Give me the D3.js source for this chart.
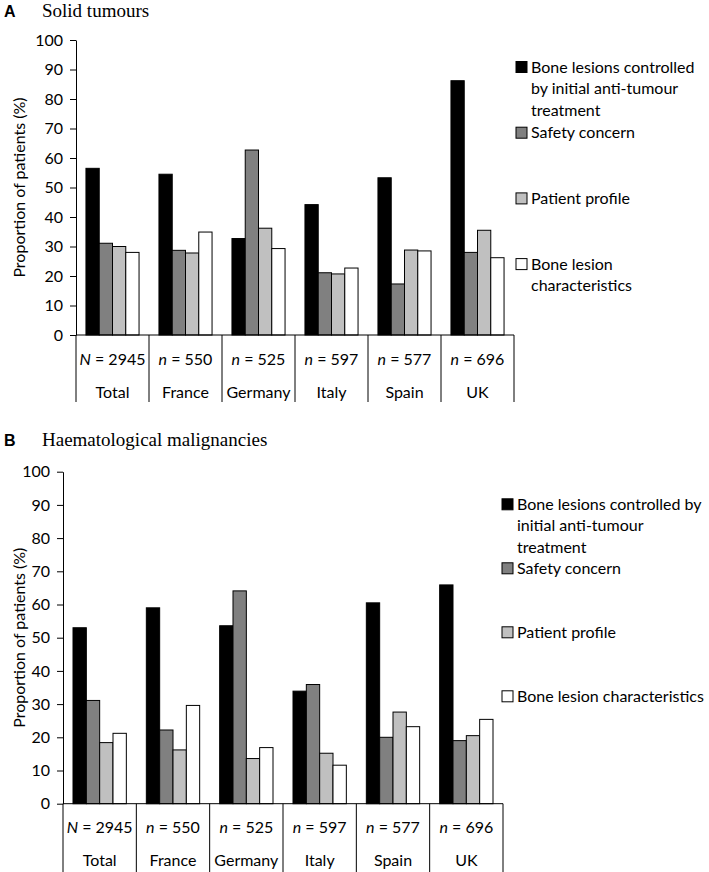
<!DOCTYPE html>
<html>
<head>
<meta charset="utf-8">
<script src="https://cdn.jsdelivr.net/npm/d3@7"></script>
<style>
  body { margin: 0; background: #fff; }
  svg { display: block; }
  .sans { font-family: Lato, "Open Sans", sans-serif; }
</style>
</head>
<body>
<svg id="chart" width="709" height="872"></svg>
<script>
const countries = ['Total', 'France', 'Germany', 'Italy', 'Spain', 'UK'];
const nLetters = ['N', 'n', 'n', 'n', 'n', 'n'];
const nCounts = ['2945', '550', '525', '597', '577', '696'];
const yTicks = [0, 10, 20, 30, 40, 50, 60, 70, 80, 90, 100];
const seriesKeys = ['controlled', 'safety', 'profile', 'characteristics'];
const seriesColors = ['#000000', '#808080', '#c0c0c0', '#ffffff'];

// panel A - solid tumours
const solidControlled = [56.5, 54.5, 32.7, 44.2, 53.3, 86.2];
const solidSafety = [31.1, 28.7, 62.7, 21.1, 17.3, 28.0];
const solidProfile = [30.0, 27.8, 36.2, 20.7, 28.8, 35.5];
const solidCharacteristics = [28.0, 34.9, 29.3, 22.7, 28.5, 26.2];
const solidLegend = [
  ['Bone lesions controlled', 'by initial anti-tumour', 'treatment'],
  ['Safety concern'],
  ['Patient profile'],
  ['Bone lesion', 'characteristics']
];

// panel B - haematological malignancies
const haemControlled = [53.0, 59.0, 53.6, 33.9, 60.5, 65.9];
const haemSafety = [31.1, 22.2, 64.1, 35.9, 20.0, 19.0];
const haemProfile = [18.4, 16.2, 13.6, 15.2, 27.6, 20.5];
const haemCharacteristics = [21.2, 29.6, 16.9, 11.6, 23.2, 25.4];
const haemLegend = [
  ['Bone lesions controlled by', 'initial anti-tumour', 'treatment'],
  ['Safety concern'],
  ['Patient profile'],
  ['Bone lesion characteristics']
];

const svg = d3.select('#chart');

function drawPanel(opt) {
  const g = svg.append('g');
  const series = [opt.controlled, opt.safety, opt.profile, opt.characteristics];

  // panel letter + title
  g.append('text')
    .attr('x', 4).attr('y', opt.titleY)
    .attr('font-family', '"Liberation Sans", Arial, sans-serif')
    .attr('font-weight', 'bold').attr('font-size', 16)
    .text(opt.letter);
  g.append('text')
    .attr('x', 42).attr('y', opt.titleY)
    .attr('font-family', '"Liberation Serif", "Times New Roman", serif')
    .attr('font-size', 19)
    .text(opt.title);

  const x = d3.scaleBand().domain(countries).range([opt.left, opt.right]);
  const xInner = d3.scaleBand().domain(seriesKeys)
    .range([0, x.bandwidth()]).paddingOuter(0.75);
  const y = d3.scaleLinear().domain([0, 100]).range([opt.zero, opt.top]);

  // bars
  countries.forEach((c, i) => {
    g.append('g')
      .selectAll('rect')
      .data(seriesKeys)
      .join('rect')
      .attr('x', k => x(c) + xInner(k))
      .attr('width', xInner.bandwidth())
      .attr('y', (k, j) => y(series[j][i]))
      .attr('height', (k, j) => y(0) - y(series[j][i]))
      .attr('fill', (k, j) => seriesColors[j])
      .attr('stroke', '#000')
      .attr('stroke-width', 1);
  });

  // y axis
  const yAxis = g.append('g')
    .attr('transform', `translate(${opt.left},0)`)
    .call(d3.axisLeft(y).tickValues(yTicks).tickSize(6).tickPadding(7).tickSizeOuter(0));
  yAxis.select('.domain').attr('stroke', '#000');
  yAxis.selectAll('.tick line').attr('stroke', '#000');
  yAxis.selectAll('.tick text')
    .attr('class', 'sans').attr('font-size', 16).attr('fill', '#000');

  g.append('text')
    .attr('class', 'sans')
    .attr('transform', `translate(25,${(opt.zero + opt.top) / 2}) rotate(-90)`)
    .attr('text-anchor', 'middle')
    .attr('font-size', 16)
    .text('Proportion of patients (%)');

  // x axis line + category separators
  g.append('line')
    .attr('x1', opt.left).attr('x2', opt.right)
    .attr('y1', y(0)).attr('y2', y(0))
    .attr('stroke', '#000');
  const seps = countries.map(c => x(c)).concat([opt.right]);
  g.selectAll('.sep')
    .data(seps)
    .join('line')
    .attr('x1', d => d).attr('x2', d => d)
    .attr('y1', y(0)).attr('y2', opt.sepBottom)
    .attr('stroke', '#000');

  const nText = g.selectAll('.ntext')
    .data(countries)
    .join('text')
    .attr('class', 'sans')
    .attr('x', c => x(c) + x.bandwidth() / 2)
    .attr('y', y(0) + opt.nOffset)
    .attr('text-anchor', 'middle')
    .attr('font-size', 16);
  nText.append('tspan').attr('font-style', 'italic').text((c, i) => nLetters[i]);
  nText.append('tspan').text((c, i) => ' = ' + nCounts[i]);

  g.selectAll('.ctext')
    .data(countries)
    .join('text')
    .attr('class', 'sans')
    .attr('x', c => x(c) + x.bandwidth() / 2)
    .attr('y', y(0) + opt.cOffset)
    .attr('text-anchor', 'middle')
    .attr('font-size', 16)
    .text(c => c);

  // legend
  const lg = g.append('g');
  opt.legend.forEach((lines, j) => {
    const cy = opt.legendTop + j * opt.legendStep;
    lg.append('rect')
      .attr('x', opt.legendX).attr('y', cy - 5.5)
      .attr('width', 11).attr('height', 11)
      .attr('fill', seriesColors[j]).attr('stroke', '#000');
    lines.forEach((ln, li) => {
      lg.append('text')
        .attr('class', 'sans')
        .attr('x', opt.legendX + 15)
        .attr('y', cy + li * 21.5)
        .attr('dy', '0.35em')
        .attr('font-size', 16)
        .text(ln);
    });
  });
}

drawPanel({
  letter: 'A', title: 'Solid tumours', titleY: 17,
  controlled: solidControlled, safety: solidSafety,
  profile: solidProfile, characteristics: solidCharacteristics,
  legend: solidLegend,
  left: 76, right: 514, top: 40, zero: 335, sepBottom: 402,
  nOffset: 30, cOffset: 63,
  legendX: 516, legendTop: 67, legendStep: 65.7
});

drawPanel({
  letter: 'B', title: 'Haematological malignancies', titleY: 446,
  controlled: haemControlled, safety: haemSafety,
  profile: haemProfile, characteristics: haemCharacteristics,
  legend: haemLegend,
  left: 63, right: 503, top: 471.7, zero: 803.7, sepBottom: 872,
  nOffset: 29, cOffset: 62,
  legendX: 502, legendTop: 504.3, legendStep: 64
});
</script>
</body>
</html>
